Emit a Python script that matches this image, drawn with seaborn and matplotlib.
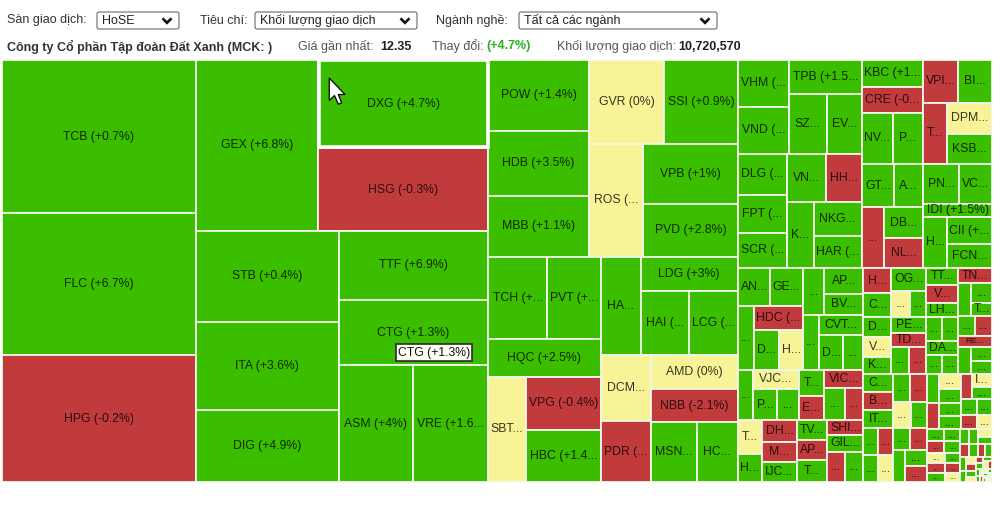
import matplotlib
matplotlib.use("Agg")
import matplotlib.pyplot as plt
from matplotlib.patches import Rectangle, Polygon, FancyBboxPatch
from matplotlib.font_manager import FontProperties
import numpy as np
import seaborn as sns

# --- data: ticker, % change, traded volume (relative units, read off tile areas) ---
# left half of the map
left_tickers = ["TCB", "FLC", "HPG", "GEX", "DXG", "HSG", "STB", "ITA", "DIG", "TTF", "CTG", "ASM", "VRE"]
left_change = [0.7, 6.7, -0.2, 6.8, 4.7, -0.3, 0.4, 3.6, 4.9, 6.9, 1.3, 4.0, 1.6]
left_volume = [29682, 27548, 24638, 21000, 15048, 14022, 13013, 12727, 10296, 10281, 9834, 8658, 8775]

# middle band
mid_tickers = ["POW", "HDB", "MBB", "GVR", "SSI", "ROS", "VPB", "PVD", "TCH", "PVT", "HQC", "SBT",
               "VPG", "HBC", "HAG", "LDG", "HAI", "LCG", "DCM", "PDR", "AMD", "NBB", "MSN", "HCM"]
mid_change = [1.4, 3.5, 1.1, 0, 0.9, 0, 1.0, 2.8, 2.3, 1.9, 2.5, 0,
              -0.4, 1.4, 1.2, 3.0, 0.8, 2.2, 0, -0.5, 0, -2.1, 0.6, 1.8]
mid_volume = [7171, 6565, 6161, 6300, 6216, 6102, 5700, 5035, 4838, 4428, 4294, 3990,
              3975, 3900, 3950, 3332, 3136, 3136, 3300, 3050, 2958, 2871, 2760, 2460]

# right band, upper half
rt_tickers = ["VHM", "VND", "TPB", "SZC", "EVG", "DLG", "FPT", "SCR", "VNM", "HHV", "KDC", "NKG", "HAR",
              "KBC", "CRE", "NVL", "PHR", "VPI", "BID", "TGG", "DPM", "KSB", "GTN", "AAA", "KDH", "DBC",
              "NLG", "PNJ", "VCG", "IDI", "HT1", "CII", "FCN"]
rt_change = [0.5, 2.4, 1.5, 3.1, 4.4, 1.2, 0.3, 2.7, 0.8, -0.6, 0.9, 2.6, 4.2,
             1.7, -0.8, 0.4, 2.1, -1.1, 0.6, -1.9, 0, 1.3, 0.7, 1.5, -0.4, 2.2,
             -0.9, 0.2, 1.9, 1.5, 0.5, 1.1, 2.9]
rt_volume = [2397, 2397, 2482, 2280, 2100, 2009, 1862, 1715, 1872, 1728, 1782, 1632, 1536,
             1647, 1586, 1581, 1530, 1505, 1462, 1464, 1395, 1350, 1420, 1290, 1342, 1209,
             1170, 1440, 1320, 932, 1200, 1215, 1080]

# right band, lower half (left block)
la_tickers = ["ANV", "GEG", "DRC", "HDC", "DXS", "HNG", "GMD", "APG", "BVH", "TDM", "CVT", "DGW",
              "SJS", "SAM", "VJC", "PLX", "BWE", "TDH", "EVE", "VIC", "OCB", "BMP", "TMS", "HVN",
              "DHC", "MWG", "IJC", "TVS", "APH", "TDC", "SHI", "GIL", "SKG", "SMC"]
la_change = [1.2, 2.0, 0.9, -1.2, 1.8, 0, 1.1, 3.4, 0.6, 0.5, 2.4, 0.7,
             1.0, 0.4, 0, 0.5, 0.3, 1.5, -0.4, -0.3, 0.8, -1.0, 0, 0.6,
             -0.7, -0.2, 1.3, 0.9, -1.4, 2.0, -0.6, 1.1, -0.5, 0.7]
la_volume = [1250, 1250, 1040, 1176, 992, 952, 1010, 1007, 850, 891, 890, 816,
             697, 790, 877, 740, 677, 663, 637, 702, 693, 594, 804, 684,
             770, 700, 700, 600, 600, 660, 540, 594, 549, 549]

# right band, lower half (right block)
lb_tickers = ["HAX", "CTD", "DRH", "VPH", "KHG", "OGC", "ST8", "SHA", "PET", "TDG", "SGT", "SRF",
              "TTB", "VOS", "LHG", "SVD", "SMA", "DAH", "SFG", "SGN", "TNH", "STK", "LSS", "TLH",
              "SII", "SSC", "REE", "SPM", "SCS", "VSC"]
lb_change = [-0.8, 1.0, 0.9, 0, 1.4, 2.1, 0, 0.6, 1.7, -1.3, 0.5, -0.6,
             1.2, -1.5, 0.4, 0.8, 0.3, 0.6, 1.1, 0.2, -0.7, 0.9, 1.0, 0.6,
             0.5, -0.9, -0.2, 0.4, 0.7, 1.6]
lb_volume = [714, 658, 560, 560, 476, 805, 481, 429, 578, 473, 486, 459,
             544, 592, 432, 384, 384, 448, 304, 304, 527, 420, 400, 285,
             330, 350, 374, 338, 273, 273]

# long tail of small stocks (bottom-right corner)
tail_tickers = ["CSM", "BCE", "ITD", "CMG", "BFC", "CCL", "CSV", "DHA", "DPG", "DRL", "ELC", "FIR",
                "FMC", "GSP", "HAH", "HCD", "HDG", "HID", "HMC", "HRC", "HTI", "HTN", "HVX", "ICT",
                "JVC", "L10", "LAF", "LBM", "LEC", "LIX", "MCP", "MDG", "MHC", "NAF", "NAV", "NHA",
                "NHH", "NSC", "NTL", "PAC", "PDN", "PGC", "PGD", "PGI", "PIT", "PJT", "PMG", "PPC",
                "PSH", "PTC", "PTL", "QBS", "RAL", "RDP", "SAV", "SBA", "SBV", "SC5", "SFC", "SFI",
                "SGR", "SHP", "SMB", "SRC", "SSB", "STG", "SVC", "SVI", "SVT", "TBC", "TCD", "TCL",
                "TCO", "TCR"]
tail_change = [1.2, -0.8, 0.6, 2.1, -1.4, 0, 0.9, 1.7, -0.5, 0.4,
               0, 1.1, -2.0, 0.8, 0.3, -0.6, 1.5, 0, 0.7, -1.1,
               2.4, 0.5, -0.9, 0, 1.3, 0.2, -0.3, 0.9, 0, 1.8,
               -1.7, 0.6, 0.4, 0, -0.4, 1.0, 2.6, -0.7, 0, 0.5,
               1.4, -1.2, 0.3, 0, 0.8, -0.2, 1.9, 0.6, 0, -1.5,
               0.7, 1.1, 0, -0.8, 0.2, 0.9, 0, -0.3, 1.6, 0,
               0.4, -1.0, 0, 0.5, 1.2, 0, -0.6, 0.3, 0, 0.7,
               -0.9, 0, 0.1, 0]
tail_volume = [560, 540, 520, 480, 470, 455, 430, 420, 410, 400, 395, 390,
               380, 372, 360, 350, 338, 330, 318, 305, 296, 288, 275, 266,
               258, 247, 236, 228, 219, 210, 202, 195, 186, 178, 170, 163,
               155, 148, 140, 133, 126, 118, 111, 105, 98, 92, 86, 80,
               74, 69, 63, 58, 53, 49, 44, 40, 36, 32, 29, 26,
               23, 20, 18, 16, 14, 12, 10, 9, 8, 7, 6, 5, 4, 3]

# grouping of the tiles (nested lists are sliced along the long side,
# the tuple holds the tail, which is split d3-binary style)
left_tiling = [["TCB", "FLC", "HPG"],
               [["GEX", ["DXG", "HSG"]],
                [["STB", "ITA", "DIG"], ["TTF", "CTG", ["ASM", "VRE"]]]]]
mid_tiling = [[["POW", "HDB", "MBB"], [["GVR", "SSI"], ["ROS", ["VPB", "PVD"]]]],
              [[[["TCH", "PVT"], "HQC"], ["SBT", ["VPG", "HBC"]]],
               [["HAG", ["LDG", ["HAI", "LCG"]]], [["DCM", "PDR"], ["AMD", "NBB", ["MSN", "HCM"]]]]]]
rt_tiling = [[[["VHM", "VND"], ["TPB", ["SZC", "EVG"]]],
              [["DLG", "FPT", "SCR"], [["VNM", "HHV"], ["KDC", ["NKG", "HAR"]]]]],
             [[["KBC", "CRE", ["NVL", "PHR"]], [["VPI", "BID"], ["TGG", ["DPM", "KSB"]]]],
              [[["GTN", "AAA"], ["KDH", ["DBC", "NLG"]]], [["PNJ", "VCG"], "IDI", ["HT1", ["CII", "FCN"]]]]]]
la_tiling = [[[["ANV", "GEG"], ["DRC", ["HDC", ["DXS", "HNG"]]]],
              [["GMD", ["APG", "BVH"]], ["TDM", ["CVT", ["DGW", "SJS"]]]]],
             ["SAM", ["VJC", ["PLX", "BWE"]], ["TDH", "EVE"], ["VIC", ["OCB", "BMP"]]],
             [["TMS", "HVN"], ["DHC", "MWG", "IJC"], ["TVS", "APH", "TDC"], ["SHI", "GIL", ["SKG", "SMC"]]]]
lb_tiling = [["HAX", "CTD", "DRH", "VPH", "KHG"],
             ["OGC", ["ST8", "SHA"], "PET", "TDG", ["SGT", "SRF"]],
             ["TTB", "VOS", "LHG", ["SVD", "SMA"], "DAH", ["SFG", "SGN"]],
             ["TNH", ["STK", ["LSS", "TLH"]], ["SII", "SSC"], "REE", ["SPM", ["SCS", "VSC"]]]]
tiling = [left_tiling, [mid_tiling, [rt_tiling, [la_tiling, [lb_tiling, tuple(tail_tickers)]]]]]

sns.set_theme(style="white")
plt.rcParams["font.family"] = ["Liberation Sans", "DejaVu Sans"]

all_tickers = left_tickers + mid_tickers + rt_tickers + la_tickers + lb_tickers + tail_tickers
change = dict(zip(all_tickers, left_change + mid_change + rt_change + la_change + lb_change + tail_change))
volume = dict(zip(all_tickers, left_volume + mid_volume + rt_volume + la_volume + lb_volume + tail_volume))

palette = sns.color_palette(["#c13b3d", "#f7f396", "#3bbe00"])


def tile_color(v):
    if v < 0:
        return palette[0]
    if v == 0:
        return palette[1]
    return palette[2]


def pct(v):
    return "0%" if v == 0 else f"{v:+g}%"


def weight(node):
    if isinstance(node, str):
        return volume[node]
    return sum(weight(c) for c in node)


def binary_tiles(names, x0, y0, x1, y1, out):
    sums = np.concatenate([[0.0], np.cumsum([volume[n] for n in names])])

    def part(i, j, value, x0, y0, x1, y1):
        if i >= j - 1:
            out[names[i]] = (x0, y0, x1 - x0, y1 - y0)
            return
        target = value / 2 + sums[i]
        k, hi = i + 1, j - 1
        while k < hi:
            mid = (k + hi) // 2
            if sums[mid] < target:
                k = mid + 1
            else:
                hi = mid
        if target - sums[k - 1] < sums[k] - target and i + 1 < k:
            k -= 1
        left = sums[k] - sums[i]
        right = value - left
        if x1 - x0 > y1 - y0:
            xk = (x0 * right + x1 * left) / value
            part(i, k, left, x0, y0, xk, y1)
            part(k, j, right, xk, y0, x1, y1)
        else:
            yk = (y0 * right + y1 * left) / value
            part(i, k, left, x0, y0, x1, yk)
            part(k, j, right, x0, yk, x1, y1)

    part(0, len(names), sums[-1], x0, y0, x1, y1)


def slice_tiles(node, x, y, w, h, out):
    if isinstance(node, str):
        out[node] = (x, y, w, h)
        return
    if isinstance(node, tuple):
        binary_tiles(list(node), x, y, x + w, y + h, out)
        return
    total = weight(node)
    pos = 0.0
    for child in node:
        share = weight(child) / total
        if w > h:
            slice_tiles(child, x + pos, y, w * share, h, out)
            pos += w * share
        else:
            slice_tiles(child, x, y + pos, w, h * share, out)
            pos += h * share


W, H = 1005, 511
fig = plt.figure(figsize=(W / 100, H / 100), dpi=100)

# header (pixel coordinates)
hx = fig.add_axes([0, 0, 1, 1])
hx.set_xlim(0, W)
hx.set_ylim(H, 0)
hx.axis("off")

hdr = dict(fontsize=9, va="center", color="#333333")
hx.text(7, 20.5, "Sàn giao dịch:", **hdr)
hx.text(200, 20.5, "Tiêu chí:", **hdr)
hx.text(436, 20.5, "Ngành nghề:", **hdr)
for x0, x1, label in [(97, 179, "HoSE"), (255, 417, "Khối lượng giao dịch"), (519, 717, "Tất cả các ngành")]:
    hx.add_patch(FancyBboxPatch((x0, 12), x1 - x0, 17, boxstyle="round,pad=0,rounding_size=2",
                                fc="white", ec="#7a7a7a", lw=0.9))
    hx.text(x0 + 5, 20.5, label, fontsize=9, va="center", color="#222222")
    cx = x1 - 12
    hx.plot([cx - 4.5, cx, cx + 4.5], [18.3, 22.8, 18.3], color="#111111", lw=1.9,
            solid_joinstyle="miter", solid_capstyle="butt")

hx.text(7, 46.5, "Công ty Cổ phần Tập đoàn Đất Xanh (MCK: )", fontsize=9, va="center",
        color="#333333", fontweight="bold")
hx.text(298, 46.5, "Giá gần nhất:", fontsize=9, va="center", color="#555555")
hx.text(380, 46.5, "12.35", fontsize=9, va="center", color="#222222", fontweight="bold")
hx.text(432, 46.5, "Thay đổi:", fontsize=9, va="center", color="#555555")
hx.text(486, 46.5, "(+4.7%)", fontsize=9, va="center", color="#2fae1f", fontweight="bold")
hx.text(557, 46.5, "Khối lượng giao dịch:", fontsize=9, va="center", color="#555555")
hx.text(678, 46.5, "10,720,570", fontsize=9, va="center", color="#222222", fontweight="bold")

# treemap
tl, tt, tw, th = 2, 60, 990, 422
ax = fig.add_axes([tl / W, 1 - (tt + th) / H, tw / W, th / H])
ax.set_xlim(0, tw)
ax.set_ylim(th, 0)
ax.axis("off")

tiles = {}
slice_tiles(tiling, 0, 0, tw, th, tiles)

renderer = fig.canvas.get_renderer()
prop = FontProperties(family=["Liberation Sans", "DejaVu Sans"], size=8.8)
tiny_prop = FontProperties(family=["Liberation Sans", "DejaVu Sans"], size=6.0)


def text_w(s):
    return renderer.get_text_width_height_descent(s, prop, ismath=False)[0]


def fit_label(full, w, h):
    avail = w - 4.5
    if h < 8:
        return ""
    if text_w(full) <= avail:
        return full
    for k in range(len(full) - 1, -1, -1):
        s = full[:k].rstrip() + "..."
        if text_w(s) <= avail:
            return s
    return ""


for t, (x, y, w, h) in tiles.items():
    ax.add_patch(Rectangle((x, y), w, h, fc=tile_color(change[t]), ec="#f1f7e9", lw=1.3))
    label = fit_label(f"{t} ({pct(change[t])})", w, h)
    if label:
        fp = prop if h >= 12 else tiny_prop
        ax.text(x + w / 2, y + h / 2, label, ha="center", va="center",
                fontproperties=fp, color="black", alpha=0.78)

# selected tile (DXG) gets a heavier white frame
x, y, w, h = tiles["DXG"]
ax.add_patch(Rectangle((x + 0.5, y), w - 1, h - 1, fill=False, ec="white", lw=2.6, zorder=5))

# mouse pointer over the selected tile
arrow = np.array([[0, 0], [0, 18], [4.2, 14], [7.2, 21], [10, 19.8], [7.2, 13.2], [12.6, 13.2]]) * 1.25
ax.add_patch(Polygon(arrow + [x + 11, y + 18], closed=True, fc="white", ec="black", lw=0.9, zorder=6))

# hover tooltip on CTG
x, y, w, h = tiles["CTG"]
ax.text(x + 59, y + 53, f"CTG ({pct(change['CTG'])})", ha="left", va="center", fontproperties=prop,
        color="#111111", zorder=7,
        bbox=dict(boxstyle="square,pad=0.18", fc="#fffff3", ec="#2a2a2a", lw=1.2))

fig.savefig("out.png", dpi=100)
